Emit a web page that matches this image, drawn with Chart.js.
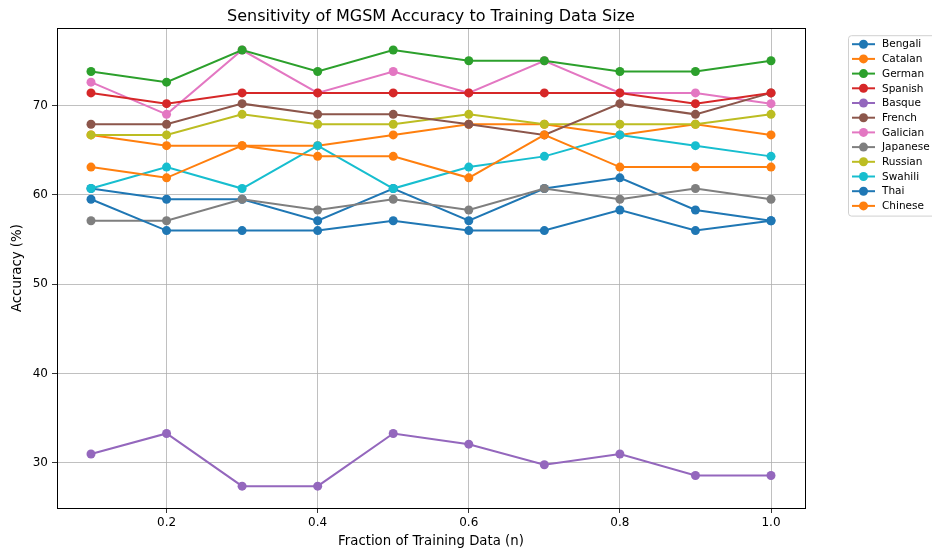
<!DOCTYPE html>
<html>
<head>
<meta charset="utf-8">
<script src="https://cdn.jsdelivr.net/npm/chart.js@4.4.1/dist/chart.umd.min.js"></script>
<style>
  html, body { margin: 0; padding: 0; background: #ffffff; }
</style>
</head>
<body>
<canvas id="myChart" width="932" height="550"></canvas>
<script>
// training data fraction (x) and accuracy (%) per language
var fractions = [0.1, 0.2, 0.3, 0.4, 0.5, 0.6, 0.7, 0.8, 0.9, 1.0];
var xTicks = [0.2, 0.4, 0.6, 0.8, 1.0];
var yTicks = [30, 40, 50, 60, 70];

var bengali  = [59.5, 56.0, 56.0, 56.0, 57.1, 56.0, 56.0, 58.3, 56.0, 57.1];
var catalan  = [63.1, 61.9, 65.5, 64.3, 64.3, 61.9, 66.7, 63.1, 63.1, 63.1];
var german   = [73.8, 72.6, 76.2, 73.8, 76.2, 75.0, 75.0, 73.8, 73.8, 75.0];
var spanish  = [71.4, 70.2, 71.4, 71.4, 71.4, 71.4, 71.4, 71.4, 70.2, 71.4];
var basque   = [31.0, 33.3, 27.4, 27.4, 33.3, 32.1, 29.8, 31.0, 28.6, 28.6];
var french   = [67.9, 67.9, 70.2, 69.0, 69.0, 67.9, 66.7, 70.2, 69.0, 71.4];
var galician = [72.6, 69.0, 76.2, 71.4, 73.8, 71.4, 75.0, 71.4, 71.4, 70.2];
var japanese = [57.1, 57.1, 59.5, 58.3, 59.5, 58.3, 60.7, 59.5, 60.7, 59.5];
var russian  = [66.7, 66.7, 69.0, 67.9, 67.9, 69.0, 67.9, 67.9, 67.9, 69.0];
var swahili  = [60.7, 63.1, 60.7, 65.5, 60.7, 63.1, 64.3, 66.7, 65.5, 64.3];
var thai     = [60.7, 59.5, 59.5, 57.1, 60.7, 57.1, 60.7, 61.9, 58.3, 57.1];
var chinese  = [66.7, 65.5, 65.5, 65.5, 66.7, 67.9, 67.9, 66.7, 67.9, 66.7];

var languages = ['Bengali', 'Catalan', 'German', 'Spanish', 'Basque', 'French',
                 'Galician', 'Japanese', 'Russian', 'Swahili', 'Thai', 'Chinese'];
var series = [bengali, catalan, german, spanish, basque, french,
              galician, japanese, russian, swahili, thai, chinese];
var colors = ['#1f77b4', '#ff7f0e', '#2ca02c', '#d62728', '#9467bd', '#8c564b',
              '#e377c2', '#7f7f7f', '#bcbd22', '#17becf', '#1f77b4', '#ff7f0e'];

var FONT = "'DejaVu Sans', sans-serif";

var datasets = languages.map(function (name, i) {
  return {
    label: name,
    data: fractions.map(function (f, j) { return { x: f, y: series[i][j] }; }),
    borderColor: colors[i],
    backgroundColor: colors[i],
    borderWidth: 2,
    pointRadius: 4.5,
    pointHoverRadius: 4.5,
    pointBorderWidth: 0,
    tension: 0
  };
});

// black frame round the plot area, like matplotlib spines
var frame = {
  id: 'frame',
  afterDatasetsDraw: function (chart) {
    var a = chart.chartArea, ctx = chart.ctx;
    ctx.save();
    ctx.strokeStyle = '#000000';
    ctx.lineWidth = 1;
    ctx.strokeRect(Math.round(a.left) + 0.5, Math.round(a.top) + 0.5,
                   Math.round(a.right - a.left), Math.round(a.bottom - a.top));
    ctx.restore();
  }
};

// legend outside the axes, upper left corner at (1.05, 1)
var sideLegend = {
  id: 'sideLegend',
  afterDraw: function (chart) {
    var a = chart.chartArea, ctx = chart.ctx;
    var x0 = a.right + 43, y0 = a.top + 7;
    var rowH = 14.7, w = 92, h = 12 * rowH + 4;
    ctx.save();
    ctx.fillStyle = 'rgba(255,255,255,0.8)';
    ctx.strokeStyle = '#d0d0d0';
    ctx.lineWidth = 1;
    ctx.beginPath();
    ctx.roundRect(x0 + 0.5, y0 + 0.5, w, h, 3);
    ctx.fill();
    ctx.stroke();
    ctx.font = '10.5px ' + FONT;
    ctx.textBaseline = 'middle';
    chart.data.datasets.forEach(function (ds, i) {
      var cy = y0 + 9 + i * rowH;
      ctx.strokeStyle = ds.borderColor;
      ctx.lineWidth = 2;
      ctx.beginPath();
      ctx.moveTo(x0 + 4, cy);
      ctx.lineTo(x0 + 27, cy);
      ctx.stroke();
      ctx.fillStyle = ds.borderColor;
      ctx.beginPath();
      ctx.arc(x0 + 15.5, cy, 4.5, 0, Math.PI * 2);
      ctx.fill();
      ctx.fillStyle = '#000000';
      ctx.fillText(ds.label, x0 + 34, cy + 0.5);
    });
    ctx.restore();
  }
};

var ctx = document.getElementById('myChart').getContext('2d');
var myChart = new Chart(ctx, {
  type: 'line',
  data: { datasets: datasets },
  options: {
    responsive: false,
    animation: false,
    layout: { padding: { left: 0, right: 127, top: 0, bottom: 0 } },
    plugins: {
      legend: { display: false },
      tooltip: { enabled: false },
      title: {
        display: true,
        fullSize: false,
        text: 'Sensitivity of MGSM Accuracy to Training Data Size',
        color: '#000000',
        font: { family: FONT, size: 16, weight: 'normal' },
        padding: { top: 7, bottom: 2 }
      }
    },
    scales: {
      x: {
        type: 'linear',
        min: 0.055,
        max: 1.045,
        afterBuildTicks: function (scale) {
          scale.ticks = xTicks.map(function (v) { return { value: v }; });
        },
        afterFit: function (scale) { scale.height = 42; },
        ticks: {
          color: '#000000',
          font: { family: FONT, size: 12 },
          padding: 3,
          maxRotation: 0,
          callback: function (v) { return v.toFixed(1); }
        },
        grid: { color: '#b0b0b0', lineWidth: 0.8, tickColor: '#000000', tickLength: 5 },
        border: { display: false },
        title: {
          display: true,
          text: 'Fraction of Training Data (n)',
          color: '#000000',
          font: { family: FONT, size: 13.3 },
          padding: { top: 2, bottom: 0 }
        }
      },
      y: {
        min: 24.96,
        max: 78.64,
        afterBuildTicks: function (scale) {
          scale.ticks = yTicks.map(function (v) { return { value: v }; });
        },
        afterFit: function (scale) { scale.width = 57; },
        ticks: {
          color: '#000000',
          font: { family: FONT, size: 12 },
          padding: 4,
          callback: function (v) { return String(v); }
        },
        grid: { color: '#b0b0b0', lineWidth: 0.8, tickColor: '#000000', tickLength: 5 },
        border: { display: false },
        title: {
          display: true,
          text: 'Accuracy (%)',
          color: '#000000',
          font: { family: FONT, size: 13.3 },
          padding: { top: 10, bottom: 4 }
        }
      }
    }
  },
  plugins: [frame, sideLegend]
});
</script>
</body>
</html>
